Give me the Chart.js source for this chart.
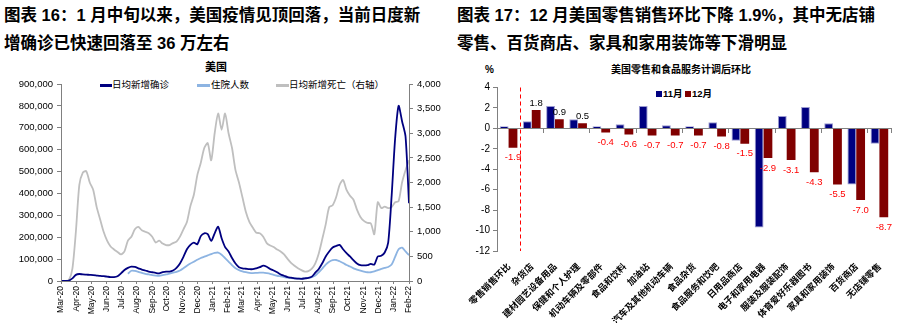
<!DOCTYPE html>
<html>
<head>
<meta charset="utf-8">
<script src="https://cdn.jsdelivr.net/npm/chart.js@4.4.1/dist/chart.umd.min.js"></script>
<style>
body { margin: 0; background: #fff; width: 907px; height: 323px; overflow: hidden; position: relative;
       font-family: "Liberation Sans", "Noto Sans CJK SC", sans-serif; color: #000; }
.title { position: absolute; top: 1px; font-weight: bold; font-size: 16.5px; line-height: 28px; white-space: nowrap; }
.lab { position: absolute; white-space: nowrap; line-height: 12px; }
.swatch { position: absolute; }
canvas { position: absolute; top: 60px; }
</style>
</head>
<body>

<div class="title" style="left:4px">图表 16：1 月中旬以来，美国疫情见顶回落，当前日度新<br>增确诊已快速回落至 36 万左右</div>
<div class="title" style="left:457px">图表 17：12 月美国零售销售环比下降 1.9%，其中无店铺<br>零售、百货商店、家具和家用装饰等下滑明显</div>

<!-- left chart heading and legend -->
<div class="lab" style="left:205px;top:61px;font-size:11px;font-weight:bold">美国</div>
<div class="swatch" style="left:100px;top:84px;width:12px;height:2.5px;background:#000080"></div>
<div class="lab" style="left:112px;top:79px;font-size:9.5px">日均新增确诊</div>
<div class="swatch" style="left:197px;top:84px;width:13px;height:2.5px;background:#8DB4E2"></div>
<div class="lab" style="left:211px;top:79px;font-size:9.5px">住院人数</div>
<div class="swatch" style="left:276px;top:84px;width:13px;height:2.5px;background:#BFBFBF"></div>
<div class="lab" style="left:289px;top:79px;font-size:9.5px">日均新增死亡（右轴）</div>

<!-- right chart heading and legend -->
<div class="lab" style="left:485px;top:64px;font-size:10px;font-weight:bold">%</div>
<div class="lab" style="left:611px;top:64px;font-size:10px;font-weight:bold">美国零售和食品服务计调后环比</div>
<div class="swatch" style="left:656px;top:91px;width:6px;height:6px;background:#000080"></div>
<div class="lab" style="left:663px;top:88px;font-size:9.5px;font-weight:bold">11月</div>
<div class="swatch" style="left:685px;top:91px;width:6px;height:6px;background:#800000"></div>
<div class="lab" style="left:692px;top:88px;font-size:9.5px;font-weight:bold">12月</div>

<canvas id="covid" width="450" height="263" style="left:0"></canvas>
<canvas id="retail" width="452" height="263" style="left:455px"></canvas>

<script>
// ---- left chart: weekly readings from 2020-03-03 ----
const firstReading = Date.UTC(2020, 2, 3);
const axisStart = Date.UTC(2020, 2, 1);
const monthLabels = ["Mar-20", "Apr-20", "May-20", "Jun-20", "Jul-20", "Aug-20", "Sep-20", "Oct-20",
    "Nov-20", "Dec-20", "Jan-21", "Feb-21", "Mar-21", "Apr-21", "May-21", "Jun-21", "Jul-21",
    "Aug-21", "Sep-21", "Oct-21", "Nov-21", "Dec-21", "Jan-22", "Feb-22"];

// 日均新增确诊
const cases = [
    0, 0, 2000, 12000, 28000, 32000, 30000, 29000, 28000, 27000,
    25000, 23000, 22000, 20000, 18000, 18000, 22000, 35000, 50000, 60000,
    66000, 64000, 58000, 52000, 48000, 43000, 40000, 37000, 35000, 40000,
    43000, 43000, 48000, 60000, 80000, 110000, 145000, 165000, 175000, 168000,
    205000, 218000, 214000, 183000, 218000, 248000, 195000, 155000, 135000, 105000,
    80000, 63000, 58000, 56000, 54000, 54000, 58000, 63000, 70000, 65000,
    55000, 48000, 40000, 30000, 24000, 18000, 15000, 12000, 11000, 10000,
    12000, 14000, 20000, 38000, 55000, 81000, 112000, 135000, 153000, 160000,
    165000, 145000, 127000, 112000, 95000, 80000, 72000, 71000, 72000, 78000,
    75000, 112000, 115000, 130000, 175000, 390000, 650000, 800000, 730000, 660000,
    355000
];
// 住院人数
const hospital = [
    null, null, null, null, null, null, null, null, null, null,
    null, null, null, null, null, null, null, null, null, 33000,
    47000, 46000, 42000, 37000, 33000, 30000, 27000, 25000, 24000, 27000,
    30000, 34000, 38000, 42000, 48000, 58000, 70000, 80000, 88000, 97000,
    105000, 111000, 117000, 123000, 128000, 130000, 120000, 104000, 88000, 72000,
    58000, 50000, 44000, 40000, 37000, 36000, 37000, 38000, 38000, 36000,
    33000, 28000, 24000, 21000, 18000, 15000, 13000, 12000, 11000, 11000,
    12000, 14000, 18000, 25000, 40000, 57000, 75000, 88000, 95000, 96000,
    90000, 82000, 73000, 66000, 58000, 52000, 47000, 43000, 40000, 40000,
    44000, 50000, 55000, 60000, 64000, 75000, 110000, 145000, 152000, 135000,
    118000
];
// 日均新增死亡（右轴）
const deaths = [
    0, 0, 20, 250, 1000, 1950, 2200, 2230, 2000, 1850,
    1500, 1250, 1000, 820, 700, 640, 590, 540, 600, 820,
    900, 1050, 1100, 1030, 1000, 970, 900, 780, 820, 760,
    730, 730, 770, 800, 900, 1050, 1200, 1520, 1750, 2150,
    2400, 2700, 2800, 2450, 3000, 3400, 3070, 3400, 3000, 2700,
    2250, 2000, 1700, 1400, 1200, 1080, 980, 970, 900, 770,
    720, 690, 640, 600, 540, 450, 370, 310, 260, 220,
    190, 200, 250, 360, 560, 850, 1150, 1500, 1540, 1700,
    1950, 2050, 1850, 1730, 1650, 1450, 1300, 1220, 1180, 1170,
    950, 1600, 1480, 1510, 1480, 1500, 1600, 1620, 2000, 2250,
    2450
];

// ---- right chart ----
const categories = ["零售销售环比", "杂货店", "建材园艺设备用品", "保健和个人护理", "机动车辆及零部件",
    "食品和饮料", "加油站", "汽车及其他机动车辆", "食品杂货", "食品服务和饮吧", "日用品商店",
    "电子和家用电器", "服装及服装配饰", "体育爱好乐器图书", "家具和家用装饰", "百货商店", "无店铺零售"];
const nov = [0.2, 0.7, 2.2, 0.9, 0.2, 0.4, 2.2, 0.3, 0.2, 0.6, -1.2, -9.7, 1.2, 2.1, 0.5, -5.5, -1.5];
const dec = [-1.9, 1.8, 0.9, 0.5, -0.4, -0.6, -0.7, -0.7, -0.7, -0.8, -1.5, -2.9, -3.1, -4.3, -5.5, -7.0, -8.7];

const DAY = 86400000;
const dayOf = t => (t - axisStart) / DAY;
const monthTicks = monthLabels.map((m, k) => dayOf(Date.UTC(2020, 2 + k, 1)));
const toPoints = arr => arr.map((v, i) => ({ x: dayOf(firstReading) + 7 * i, y: v }));

const axisGray = "#808080";
const tickFont = { family: "Liberation Sans", size: 9.5 };

new Chart(document.getElementById("covid"), {
    type: "line",
    data: {
        datasets: [
            { label: "日均新增确诊", data: toPoints(cases), borderColor: "#000080", yAxisID: "y" },
            { label: "住院人数", data: toPoints(hospital), borderColor: "#8DB4E2", yAxisID: "y" },
            { label: "日均新增死亡（右轴）", data: toPoints(deaths), borderColor: "#BFBFBF", yAxisID: "y1" },
        ],
    },
    options: {
        responsive: false,
        animation: false,
        layout: { padding: { top: 24, left: 0, right: 0, bottom: 0 } },
        plugins: { legend: { display: false }, tooltip: { enabled: false } },
        elements: { point: { radius: 0 }, line: { borderWidth: 1.8, tension: 0.25 } },
        scales: {
            x: {
                type: "linear", min: 0, max: monthTicks[monthTicks.length - 1],
                afterBuildTicks: axis => { axis.ticks = monthTicks.map(v => ({ value: v })); },
                ticks: {
                    callback: (v, i) => monthLabels[i],
                    minRotation: 90, maxRotation: 90, autoSkip: false,
                    font: { family: "Liberation Sans", size: 8.5 }, color: "#000", padding: 2,
                },
                grid: { drawOnChartArea: false, tickLength: 3, color: axisGray },
                border: { color: axisGray },
                afterFit: s => { s.height = 42; },
            },
            y: {
                min: 0, max: 900000,
                ticks: { stepSize: 100000, callback: v => v.toLocaleString("en-US"), font: tickFont, color: "#000", padding: 4 },
                grid: { drawOnChartArea: false, tickLength: 4, color: axisGray },
                border: { color: axisGray },
                afterFit: s => { s.width = 61; },
            },
            y1: {
                position: "right", min: 0, max: 4000,
                ticks: { stepSize: 500, callback: v => v.toLocaleString("en-US"), font: tickFont, color: "#000", padding: 4 },
                grid: { drawOnChartArea: false, tickLength: 4, color: axisGray },
                border: { color: axisGray },
                afterFit: s => { s.width = 41; },
            },
        },
    },
});

// value labels on December bars and the dashed separator after the total
const retailExtras = {
    id: "retailExtras",
    afterDatasetsDraw(chart) {
        const { ctx, chartArea } = chart;
        const xs = chart.scales.x;
        ctx.save();
        ctx.font = '9.5px "Liberation Sans"';
        ctx.textAlign = "center";
        ctx.textBaseline = "middle";
        chart.getDatasetMeta(1).data.forEach((bar, i) => {
            const v = dec[i];
            ctx.fillStyle = v < 0 ? "#ff0000" : "#000";
            ctx.fillText(v.toFixed(1), bar.x, v < 0 ? bar.y + 10 : bar.y - 7);
        });
        const xm = Math.round((xs.getPixelForValue(0) + xs.getPixelForValue(1)) / 2) + 0.5;
        ctx.strokeStyle = "#ff0000";
        ctx.lineWidth = 1;
        ctx.setLineDash([4, 3]);
        ctx.beginPath();
        ctx.moveTo(xm, chartArea.top);
        ctx.lineTo(xm, chartArea.bottom);
        ctx.stroke();
        ctx.restore();
    },
};

new Chart(document.getElementById("retail"), {
    type: "bar",
    data: {
        labels: categories,
        datasets: [
            { label: "11月", data: nov, backgroundColor: "#000080", borderColor: "#9a9ad0", borderWidth: 1 },
            { label: "12月", data: dec, backgroundColor: "#800000" },
        ],
    },
    options: {
        responsive: false,
        animation: false,
        layout: { padding: { top: 27.5, left: 0, right: 16, bottom: 0 } },
        plugins: { legend: { display: false }, tooltip: { enabled: false } },
        datasets: { bar: { categoryPercentage: 0.76, barPercentage: 1.0 } },
        scales: {
            x: {
                ticks: {
                    autoSkip: false, minRotation: 45, maxRotation: 45, padding: 2,
                    font: { family: "Noto Sans CJK SC", size: 9, weight: "bold" }, color: "#000",
                },
                grid: { display: false },
                border: { display: false },
                afterFit: s => { s.height = 72; },
            },
            x2: {
                type: "category", labels: categories, position: { y: 0 },
                ticks: { display: false },
                grid: {
                    drawOnChartArea: false, offset: true, tickLength: 4,
                    color: c => (c.index % 2 ? "rgba(0,0,0,0)" : axisGray),
                },
                border: { color: axisGray },
            },
            y: {
                min: -12, max: 4,
                ticks: { stepSize: 2, font: { family: "Liberation Sans", size: 10 }, color: "#000", padding: 3 },
                grid: { drawOnChartArea: false, tickLength: 4, color: axisGray },
                border: { color: axisGray },
                afterFit: s => { s.width = 42; },
            },
        },
    },
    plugins: [retailExtras],
});
</script>
</body>
</html>
